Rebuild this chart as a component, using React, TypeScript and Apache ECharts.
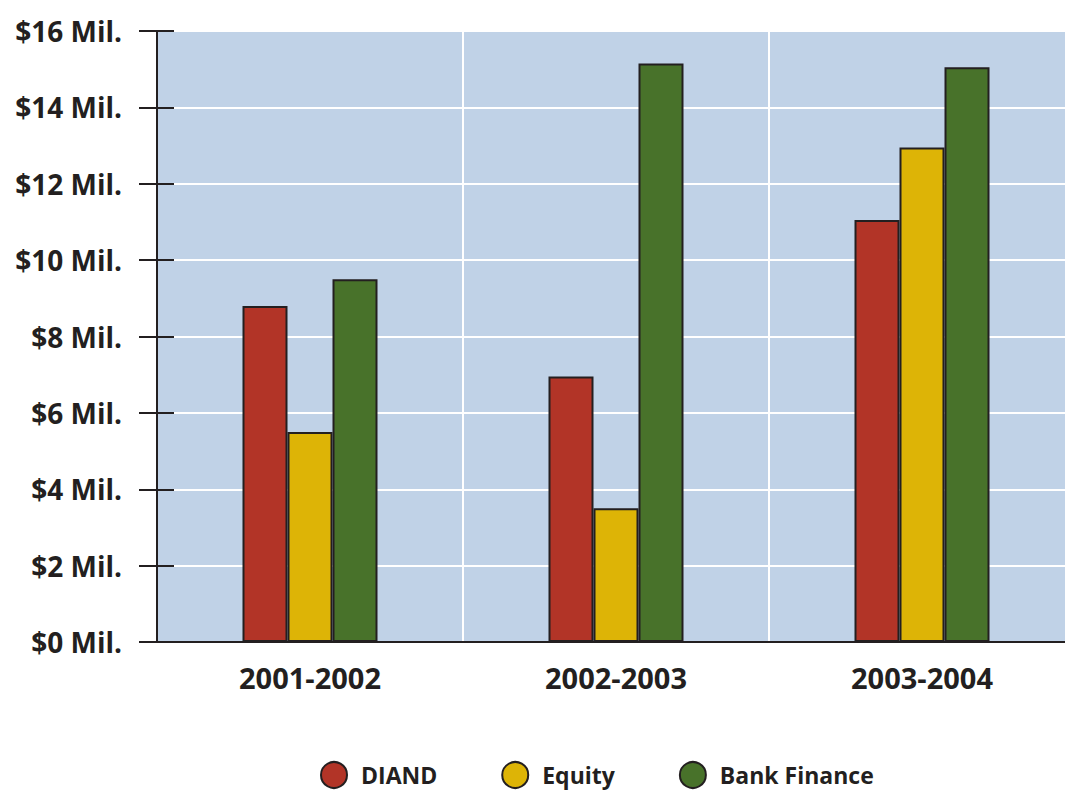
import React, { useEffect, useRef } from "react";
import * as echarts from "echarts";

const categories = ["2001-2002", "2002-2003", "2003-2004"];
const diand = [8.8, 6.95, 11.05];
const equity = [5.5, 3.5, 12.95];
const bankFinance = [9.5, 15.15, 15.05];
const seriesNames = ["DIAND", "Equity", "Bank Finance"];
const colors = ["#b23427", "#ddb406", "#48722a"];
const yTickValues = [0, 2, 4, 6, 8, 10, 12, 14, 16];

const FONT = "Open Sans";
const DARK = "#231f20";

export default function App() {
  const ref = useRef<HTMLDivElement>(null);
  useEffect(() => {
    if (!ref.current) return;
    const chart = echarts.init(ref.current, null, { renderer: "svg" });
    const dataSets = [diand, equity, bankFinance];
    const yMin = yTickValues[0];
    const yMax = yTickValues[yTickValues.length - 1];
    const yInterval = yTickValues[1] - yTickValues[0];
    chart.setOption({
      animation: false,
      grid: {
        left: 157,
        top: 31,
        width: 918,
        height: 611,
        containLabel: false,
        outerBoundsMode: "none",
        show: true,
        backgroundColor: "#c0d2e7",
        borderColor: DARK,
        borderWidth: 2,
      },
      legend: {
        top: 761,
        left: 320,
        padding: 0,
        icon: "circle",
        itemWidth: 26,
        itemHeight: 26,
        itemGap: 64,
        textStyle: { fontFamily: FONT, fontWeight: "bold", fontSize: 23, color: DARK, padding: [0, 0, 0, 9] },
        data: seriesNames,
      },
      xAxis: {
        type: "category",
        data: categories,
        axisLine: { show: true, lineStyle: { color: DARK, width: 2 } },
        axisTick: { show: false },
        splitLine: { show: true, lineStyle: { color: "#ffffff", width: 2 } },
        axisLabel: {
          fontFamily: FONT,
          fontWeight: "bold",
          fontSize: 29,
          color: DARK,
          margin: 21,
        },
      },
      yAxis: [
        {
          type: "value",
          min: yMin,
          max: yMax,
          interval: yInterval,
          axisLine: { show: true, lineStyle: { color: DARK, width: 2 } },
          axisTick: { show: true, length: 18, lineStyle: { color: DARK, width: 2 } },
          splitLine: { show: true, lineStyle: { color: "#ffffff", width: 2 } },
          axisLabel: {
            fontFamily: FONT,
            fontWeight: "bold",
            fontSize: 28,
            color: DARK,
            margin: 35,
            formatter: (v: number) => `$${v} Mil.`,
          },
        },
        {
          type: "value",
          position: "left",
          min: yMin,
          max: yMax,
          interval: yInterval,
          axisLine: { show: false },
          axisTick: { show: true, inside: true, length: 17, lineStyle: { color: DARK, width: 2 } },
          splitLine: { show: false },
          axisLabel: { show: false },
        },
      ],
      series: seriesNames.map((name, i) => ({
        name,
        type: "bar",
        data: dataSets[i],
        barWidth: 45,
        barGap: "0%",
        itemStyle: { color: colors[i], borderColor: DARK, borderWidth: 2 },
      })),
    });
    return () => chart.dispose();
  }, []);
  return (
    <div
      ref={ref}
      style={{ position: "absolute", left: 0, top: 0, width: 1065, height: 792, background: "#ffffff" }}
    />
  );
}
